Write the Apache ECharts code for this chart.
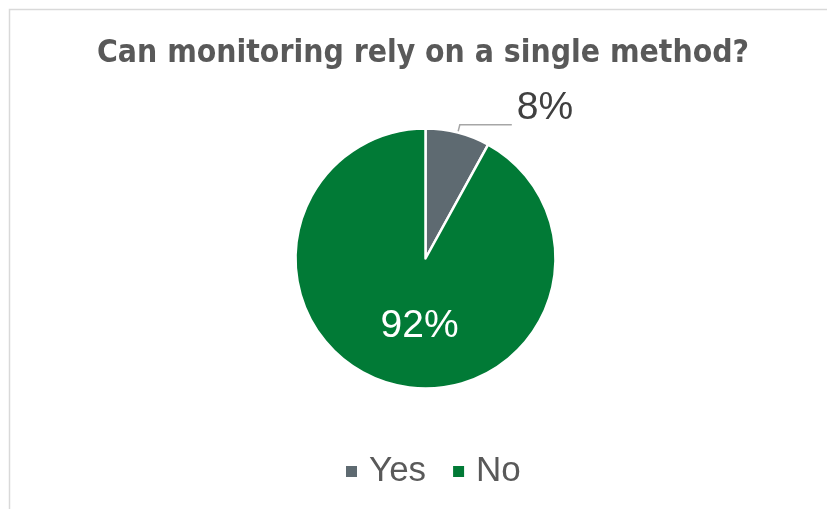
<!DOCTYPE html>
<html>
<head>
<meta charset="utf-8">
<script src="https://cdn.jsdelivr.net/npm/echarts@6/dist/echarts.min.js"></script>
<style>
  html, body { margin: 0; padding: 0; background: #ffffff; overflow: hidden; }
  #chart { width: 827px; height: 509px; }
</style>
</head>
<body>
<div id="chart"></div>
<script>
// Survey answers
const titleText = 'Can monitoring rely on a single method?';
const categories = ['Yes', 'No'];
const shares = [8, 92];
const sliceColors = ['#5E6A71', '#017A36'];

const chart = echarts.init(document.getElementById('chart'), null, { renderer: 'canvas' });

const seriesData = categories.map((name, i) => ({
  name: name,
  value: shares[i],
  itemStyle: { color: sliceColors[i] },
  label: i === 0
    ? { position: 'outside', color: '#404040' }
    : { position: 'inside', color: '#ffffff' },
  labelLine: { show: i === 0 }
}));

chart.setOption({
  animation: false,
  backgroundColor: '#ffffff',
  graphic: [{
    type: 'rect',
    shape: { x: 9.5, y: 9.5, width: 900, height: 600 },
    style: { fill: 'none', stroke: '#D9D9D9', lineWidth: 1.5 },
    silent: true
  }],
  title: {
    text: titleText,
    left: 92,
    top: 33,
    textStyle: {
      fontFamily: '"DejaVu Sans Condensed", sans-serif',
      fontSize: 31.6,
      fontWeight: 'bold',
      color: '#595959'
    }
  },
  legend: {
    bottom: 15,
    left: 339,
    itemWidth: 13,
    itemHeight: 13,
    itemGap: 25,
    icon: 'rect',
    data: categories,
    textStyle: {
      fontFamily: '"Liberation Sans", Arial, sans-serif',
      fontSize: 35,
      color: '#595959',
      padding: [0, 0, 0, 6]
    }
  },
  series: [{
    type: 'pie',
    center: [425.5, 258.5],
    radius: [0, 130],
    startAngle: 90,
    clockwise: true,
    avoidLabelOverlap: false,
    itemStyle: { borderColor: '#ffffff', borderWidth: 2.5 },
    label: {
      show: true,
      formatter: '{d}%',
      fontFamily: '"Liberation Sans", Arial, sans-serif',
      fontSize: 39
    },
    labelLine: {
      length: 8,
      length2: 52,
      lineStyle: { color: '#A6A6A6', width: 1.5 }
    },
    labelLayout: function (params) {
      if (params.dataIndex === 1) {
        return { dx: 11, dy: 2 };
      }
      return { dy: -17 };
    },
    data: seriesData
  }]
});
</script>
</body>
</html>
